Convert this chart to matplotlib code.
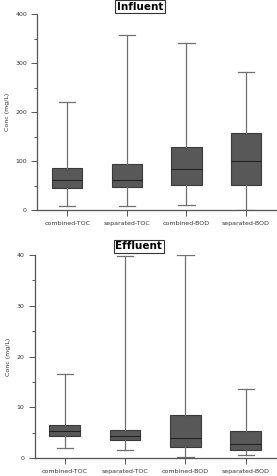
import matplotlib
matplotlib.use("Agg")
import matplotlib.pyplot as plt
from matplotlib.ticker import MultipleLocator

# ---- data
categories = ["combined-TOC", "separated-TOC", "combined-BOD", "separated-BOD"]

# influent: whisker low, q1, median, q3, whisker high
inf_low = [9, 9, 12, 1]
inf_q1 = [46, 48, 52, 52]
inf_med = [61, 61, 85, 101]
inf_q3 = [87, 95, 130, 158]
inf_high = [222, 358, 342, 283]

# effluent
eff_low = [2.0, 1.6, 0.26, 0.6]
eff_q1 = [4.45, 3.7, 2.3, 1.6]
eff_med = [5.3, 4.3, 4.1, 2.75]
eff_q3 = [6.5, 5.6, 8.45, 5.4]
eff_high = [16.6, 39.7, 39.9, 13.6]


def stats(low, q1, med, q3, high):
    out = []
    for i, name in enumerate(categories):
        out.append({"label": name, "whislo": low[i], "q1": q1[i], "med": med[i],
                    "q3": q3[i], "whishi": high[i], "fliers": []})
    return out


def draw(ax, st, ymax, major, minor):
    ax.bxp(st, positions=range(1, 5), widths=0.51, patch_artist=True,
           showfliers=False,
           boxprops=dict(facecolor="#585858", edgecolor="#3a3a3a", linewidth=0.8),
           medianprops=dict(color="#222222", linewidth=0.8),
           whiskerprops=dict(color="#707070", linewidth=0.9),
           capprops=dict(color="#707070", linewidth=0.9),
           capwidths=0.27)
    ax.set_xlim(0.5, 4.5)
    ax.set_ylim(0, ymax)
    ax.yaxis.set_major_locator(MultipleLocator(major))
    ax.yaxis.set_minor_locator(MultipleLocator(minor))
    for s in ["top", "right"]:
        ax.spines[s].set_visible(False)
    for s in ["left", "bottom"]:
        ax.spines[s].set_color("#555555")
        ax.spines[s].set_linewidth(0.9)
    ax.tick_params(axis="both", which="both", colors="#555555", labelsize=4.5,
                   labelcolor="#333333", width=0.7)
    ax.tick_params(axis="both", which="major", length=4)
    ax.tick_params(axis="y", which="minor", length=2.5)
    ax.set_xticks(range(1, 5))
    ax.set_xticklabels(categories)
    ax.set_ylabel("Conc (mg/L)", fontsize=4.5, color="#333333", labelpad=4)


fig = plt.figure(figsize=(2.77, 4.76), dpi=100)
ax1 = fig.add_axes([0.135, 0.558, 0.861, 0.412])
ax2 = fig.add_axes([0.125, 0.037, 0.871, 0.428])

draw(ax1, stats(inf_low, inf_q1, inf_med, inf_q3, inf_high), 400, 100, 50)
draw(ax2, stats(eff_low, eff_q1, eff_med, eff_q3, eff_high), 40, 10, 5)

box = dict(facecolor="white", edgecolor="#333333", linewidth=0.8,
           boxstyle="square,pad=0.15")
fig.text(0.505, 0.996, "Influent", ha="center", va="top", fontsize=7.5,
         fontweight="bold", bbox=box)
fig.text(0.5, 0.493, "Effluent", ha="center", va="top", fontsize=7.5,
         fontweight="bold", bbox=box)

fig.savefig("out.png", dpi=100)
